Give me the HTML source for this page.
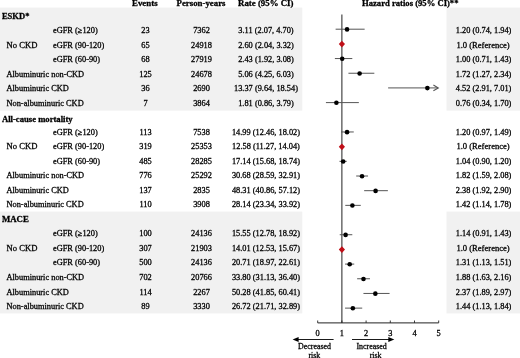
<!DOCTYPE html>
<html><head><meta charset="utf-8"><title>Forest plot</title>
<style>
html,body{margin:0;padding:0;background:#fff}
svg{display:block;will-change:transform}
text{font-family:"Liberation Serif","Times New Roman",serif;font-size:8.35px;fill:#000;stroke:#000;stroke-width:0.28px}
.b{font-weight:bold;font-size:8.6px}
.h{font-size:8.9px}
.s{font-size:7.9px}
.m{text-anchor:middle}
</style></head><body>
<svg width="520" height="358" viewBox="0 0 520 358">
<rect width="520" height="358" fill="#fff"/>

<rect x="0" y="7.60" width="302.3" height="103.00" fill="#f1f1f1"/>
<rect x="446.5" y="7.60" width="73.5" height="103.00" fill="#f1f1f1"/>
<rect x="0" y="211.60" width="302.3" height="101.80" fill="#f1f1f1"/>
<rect x="446.5" y="211.60" width="73.5" height="101.80" fill="#f1f1f1"/>
<text class="b h" x="132" y="5.5" textLength="25.6" lengthAdjust="spacingAndGlyphs">Events</text>
<text class="b h" x="176.5" y="5.5" textLength="49.0" lengthAdjust="spacingAndGlyphs">Person-years</text>
<text class="b h" x="238" y="5.5" textLength="55.5" lengthAdjust="spacingAndGlyphs">Rate (95% CI)</text>
<text class="b h" x="362" y="5.5" textLength="96.5" lengthAdjust="spacingAndGlyphs">Hazard ratios (95% CI)**</text>
<line x1="341.90" y1="14.5" x2="341.90" y2="322.9" stroke="#222" stroke-width="1"/>
<text class="b" x="1.9" y="18.50" textLength="27.6" lengthAdjust="spacingAndGlyphs">ESKD*</text>
<text x="6.6" y="48" textLength="30.8" lengthAdjust="spacingAndGlyphs">No CKD</text>
<text x="53" y="33">eGFR (≥120)</text>
<text class="m" x="145.5" y="33">23</text>
<text class="m" x="201.5" y="33">7362</text>
<text class="m" x="266" y="33">3.11 (2.07, 4.70)</text>
<text class="m" x="483.6" y="33">1.20 (0.74, 1.94)</text>
<line x1="335.61" y1="29.20" x2="364.65" y2="29.20" stroke="#555" stroke-width="1"/>
<circle cx="347.04" cy="29.40" r="2.3" fill="#000"/>
<text x="53" y="48">eGFR (90-120)</text>
<text class="m" x="145.5" y="48">65</text>
<text class="m" x="201.5" y="48">24918</text>
<text class="m" x="266" y="48">2.60 (2.04, 3.32)</text>
<text x="456.4" y="48" textLength="53.3" lengthAdjust="spacingAndGlyphs">1.0 (Reference)</text>
<path d="M338.80 44.08L341.90 40.78L345.00 44.08L341.90 47.38Z" fill="#c00f18"/>
<text x="53" y="62">eGFR (60-90)</text>
<text class="m" x="145.5" y="62">68</text>
<text class="m" x="201.5" y="62">27919</text>
<text class="m" x="266" y="62">2.43 (1.92, 3.08)</text>
<text class="m" x="483.6" y="62">1.00 (0.71, 1.43)</text>
<line x1="334.88" y1="58.56" x2="352.31" y2="58.56" stroke="#555" stroke-width="1"/>
<circle cx="342.20" cy="58.76" r="2.3" fill="#000"/>
<text x="6.5" y="77">Albuminuric non-CKD</text>
<text class="m" x="145.5" y="77">125</text>
<text class="m" x="201.5" y="77">24678</text>
<text class="m" x="266" y="77">5.06 (4.25, 6.03)</text>
<text class="m" x="483.6" y="77">1.72 (1.27, 2.34)</text>
<line x1="348.43" y1="73.24" x2="374.33" y2="73.24" stroke="#555" stroke-width="1"/>
<circle cx="359.62" cy="73.44" r="2.3" fill="#000"/>
<text x="6.5" y="91">Albuminuric CKD</text>
<text class="m" x="145.5" y="91">36</text>
<text class="m" x="201.5" y="91">2690</text>
<text class="m" x="266" y="91">13.37 (9.64, 18.54)</text>
<text class="m" x="483.6" y="91">4.52 (2.91, 7.01)</text>
<line x1="388.12" y1="87.92" x2="438" y2="87.92" stroke="#555" stroke-width="1"/>
<path d="M433.4 85.02L438.3 87.92L433.4 90.82" fill="none" stroke="#555" stroke-width="1.1"/>
<circle cx="427.38" cy="88.12" r="2.3" fill="#000"/>
<text x="6.5" y="106">Non-albuminuric CKD</text>
<text class="m" x="145.5" y="106">7</text>
<text class="m" x="201.5" y="106">3864</text>
<text class="m" x="266" y="106">1.81 (0.86, 3.79)</text>
<text class="m" x="483.6" y="106">0.76 (0.34, 1.70)</text>
<line x1="325.93" y1="102.60" x2="358.84" y2="102.60" stroke="#555" stroke-width="1"/>
<circle cx="336.39" cy="102.80" r="2.3" fill="#000"/>
<text class="b" x="1.9" y="121.80" textLength="70.8" lengthAdjust="spacingAndGlyphs">All-cause mortality</text>
<text x="6.6" y="149" textLength="30.8" lengthAdjust="spacingAndGlyphs">No CKD</text>
<text x="53" y="135">eGFR (≥120)</text>
<text class="m" x="145.5" y="135">113</text>
<text class="m" x="201.5" y="135">7538</text>
<text class="m" x="266" y="135">14.99 (12.46, 18.02)</text>
<text class="m" x="483.6" y="135">1.20 (0.97, 1.49)</text>
<line x1="341.17" y1="131.96" x2="353.76" y2="131.96" stroke="#555" stroke-width="1"/>
<circle cx="347.04" cy="132.16" r="2.3" fill="#000"/>
<text x="53" y="149">eGFR (90-120)</text>
<text class="m" x="145.5" y="149">319</text>
<text class="m" x="201.5" y="149">25353</text>
<text class="m" x="266" y="149">12.58 (11.27, 14.04)</text>
<text x="456.4" y="149" textLength="53.3" lengthAdjust="spacingAndGlyphs">1.0 (Reference)</text>
<path d="M338.80 146.84L341.90 143.54L345.00 146.84L341.90 150.14Z" fill="#c00f18"/>
<text x="53" y="164">eGFR (60-90)</text>
<text class="m" x="145.5" y="164">485</text>
<text class="m" x="201.5" y="164">28285</text>
<text class="m" x="266" y="164">17.14 (15.68, 18.74)</text>
<text class="m" x="483.6" y="164">1.04 (0.90, 1.20)</text>
<line x1="339.48" y1="161.32" x2="346.74" y2="161.32" stroke="#555" stroke-width="1"/>
<circle cx="343.17" cy="161.52" r="2.3" fill="#000"/>
<text x="6.5" y="178">Albuminuric non-CKD</text>
<text class="m" x="145.5" y="178">776</text>
<text class="m" x="201.5" y="178">25292</text>
<text class="m" x="266" y="178">30.68 (28.59, 32.91)</text>
<text class="m" x="483.6" y="178">1.82 (1.59, 2.08)</text>
<line x1="356.18" y1="176.00" x2="368.04" y2="176.00" stroke="#555" stroke-width="1"/>
<circle cx="362.04" cy="176.20" r="2.3" fill="#000"/>
<text x="6.5" y="193">Albuminuric CKD</text>
<text class="m" x="145.5" y="193">137</text>
<text class="m" x="201.5" y="193">2835</text>
<text class="m" x="266" y="193">48.31 (40.86, 57.12)</text>
<text class="m" x="483.6" y="193">2.38 (1.92, 2.90)</text>
<line x1="364.16" y1="190.68" x2="387.88" y2="190.68" stroke="#555" stroke-width="1"/>
<circle cx="375.60" cy="190.88" r="2.3" fill="#000"/>
<text x="6.5" y="207">Non-albuminuric CKD</text>
<text class="m" x="145.5" y="207">110</text>
<text class="m" x="201.5" y="207">3908</text>
<text class="m" x="266" y="207">28.14 (23.34, 33.92)</text>
<text class="m" x="483.6" y="207">1.42 (1.14, 1.78)</text>
<line x1="345.29" y1="205.36" x2="360.78" y2="205.36" stroke="#555" stroke-width="1"/>
<circle cx="352.36" cy="205.56" r="2.3" fill="#000"/>
<text class="b" x="1.9" y="221.80" textLength="27.0" lengthAdjust="spacingAndGlyphs">MACE</text>
<text x="6.6" y="251" textLength="30.8" lengthAdjust="spacingAndGlyphs">No CKD</text>
<text x="53" y="236">eGFR (≥120)</text>
<text class="m" x="145.5" y="236">100</text>
<text class="m" x="201.5" y="236">24136</text>
<text class="m" x="266" y="236">15.55 (12.78, 18.92)</text>
<text class="m" x="483.6" y="236">1.14 (0.91, 1.43)</text>
<line x1="339.72" y1="234.72" x2="352.31" y2="234.72" stroke="#555" stroke-width="1"/>
<circle cx="345.59" cy="234.92" r="2.3" fill="#000"/>
<text x="53" y="251">eGFR (90-120)</text>
<text class="m" x="145.5" y="251">307</text>
<text class="m" x="201.5" y="251">21903</text>
<text class="m" x="266" y="251">14.01 (12.53, 15.67)</text>
<text x="456.4" y="251" textLength="53.3" lengthAdjust="spacingAndGlyphs">1.0 (Reference)</text>
<path d="M338.80 249.60L341.90 246.30L345.00 249.60L341.90 252.90Z" fill="#c00f18"/>
<text x="53" y="265">eGFR (60-90)</text>
<text class="m" x="145.5" y="265">500</text>
<text class="m" x="201.5" y="265">24136</text>
<text class="m" x="266" y="265">20.71 (18.97, 22.61)</text>
<text class="m" x="483.6" y="265">1.31 (1.13, 1.51)</text>
<line x1="345.05" y1="264.08" x2="354.24" y2="264.08" stroke="#555" stroke-width="1"/>
<circle cx="349.70" cy="264.28" r="2.3" fill="#000"/>
<text x="6.5" y="280">Albuminuric non-CKD</text>
<text class="m" x="145.5" y="280">702</text>
<text class="m" x="201.5" y="280">20766</text>
<text class="m" x="266" y="280">33.80 (31.13, 36.40)</text>
<text class="m" x="483.6" y="280">1.88 (1.63, 2.16)</text>
<line x1="357.15" y1="278.76" x2="369.97" y2="278.76" stroke="#555" stroke-width="1"/>
<circle cx="363.50" cy="278.96" r="2.3" fill="#000"/>
<text x="6.5" y="295">Albuminuric CKD</text>
<text class="m" x="145.5" y="295">114</text>
<text class="m" x="201.5" y="295">2267</text>
<text class="m" x="266" y="295">50.28 (41.85, 60.41)</text>
<text class="m" x="483.6" y="295">2.37 (1.89, 2.97)</text>
<line x1="363.44" y1="293.44" x2="389.57" y2="293.44" stroke="#555" stroke-width="1"/>
<circle cx="375.35" cy="293.64" r="2.3" fill="#000"/>
<text x="6.5" y="309">Non-albuminuric CKD</text>
<text class="m" x="145.5" y="309">89</text>
<text class="m" x="201.5" y="309">3330</text>
<text class="m" x="266" y="309">26.72 (21.71, 32.89)</text>
<text class="m" x="483.6" y="309">1.44 (1.13, 1.84)</text>
<line x1="345.05" y1="308.12" x2="362.23" y2="308.12" stroke="#555" stroke-width="1"/>
<circle cx="352.85" cy="308.32" r="2.3" fill="#000"/>
<line x1="317.70" y1="322.9" x2="438.70" y2="322.9" stroke="#222" stroke-width="1"/>
<line x1="317.70" y1="320.5" x2="317.70" y2="322.9" stroke="#222" stroke-width="0.9"/>
<text class="m" x="317.70" y="335.5">0</text>
<line x1="341.90" y1="320.5" x2="341.90" y2="322.9" stroke="#222" stroke-width="0.9"/>
<text class="m" x="341.90" y="335.5">1</text>
<line x1="366.10" y1="320.5" x2="366.10" y2="322.9" stroke="#222" stroke-width="0.9"/>
<text class="m" x="366.10" y="335.5">2</text>
<line x1="390.30" y1="320.5" x2="390.30" y2="322.9" stroke="#222" stroke-width="0.9"/>
<text class="m" x="390.30" y="335.5">3</text>
<line x1="414.50" y1="320.5" x2="414.50" y2="322.9" stroke="#222" stroke-width="0.9"/>
<text class="m" x="414.50" y="335.5">4</text>
<line x1="438.70" y1="320.5" x2="438.70" y2="322.9" stroke="#222" stroke-width="0.9"/>
<text class="m" x="438.70" y="335.5">5</text>
<line x1="297" y1="339.5" x2="333.6" y2="339.5" stroke="#000" stroke-width="0.9"/>
<path d="M292.6 339.5L298.6 337.1L298.6 341.9Z" fill="#000"/>
<line x1="352" y1="339.5" x2="389" y2="339.5" stroke="#000" stroke-width="0.9"/>
<path d="M394.3 339.5L388.3 337.1L388.3 341.9Z" fill="#000"/>
<text class="m s" x="314.5" y="349.2">Decreased</text>
<text class="m s" x="314.4" y="357.7">risk</text>
<text class="m s" x="371.6" y="349.2">Increased</text>
<text class="m s" x="375.6" y="357.7">risk</text>
</svg></body></html>
